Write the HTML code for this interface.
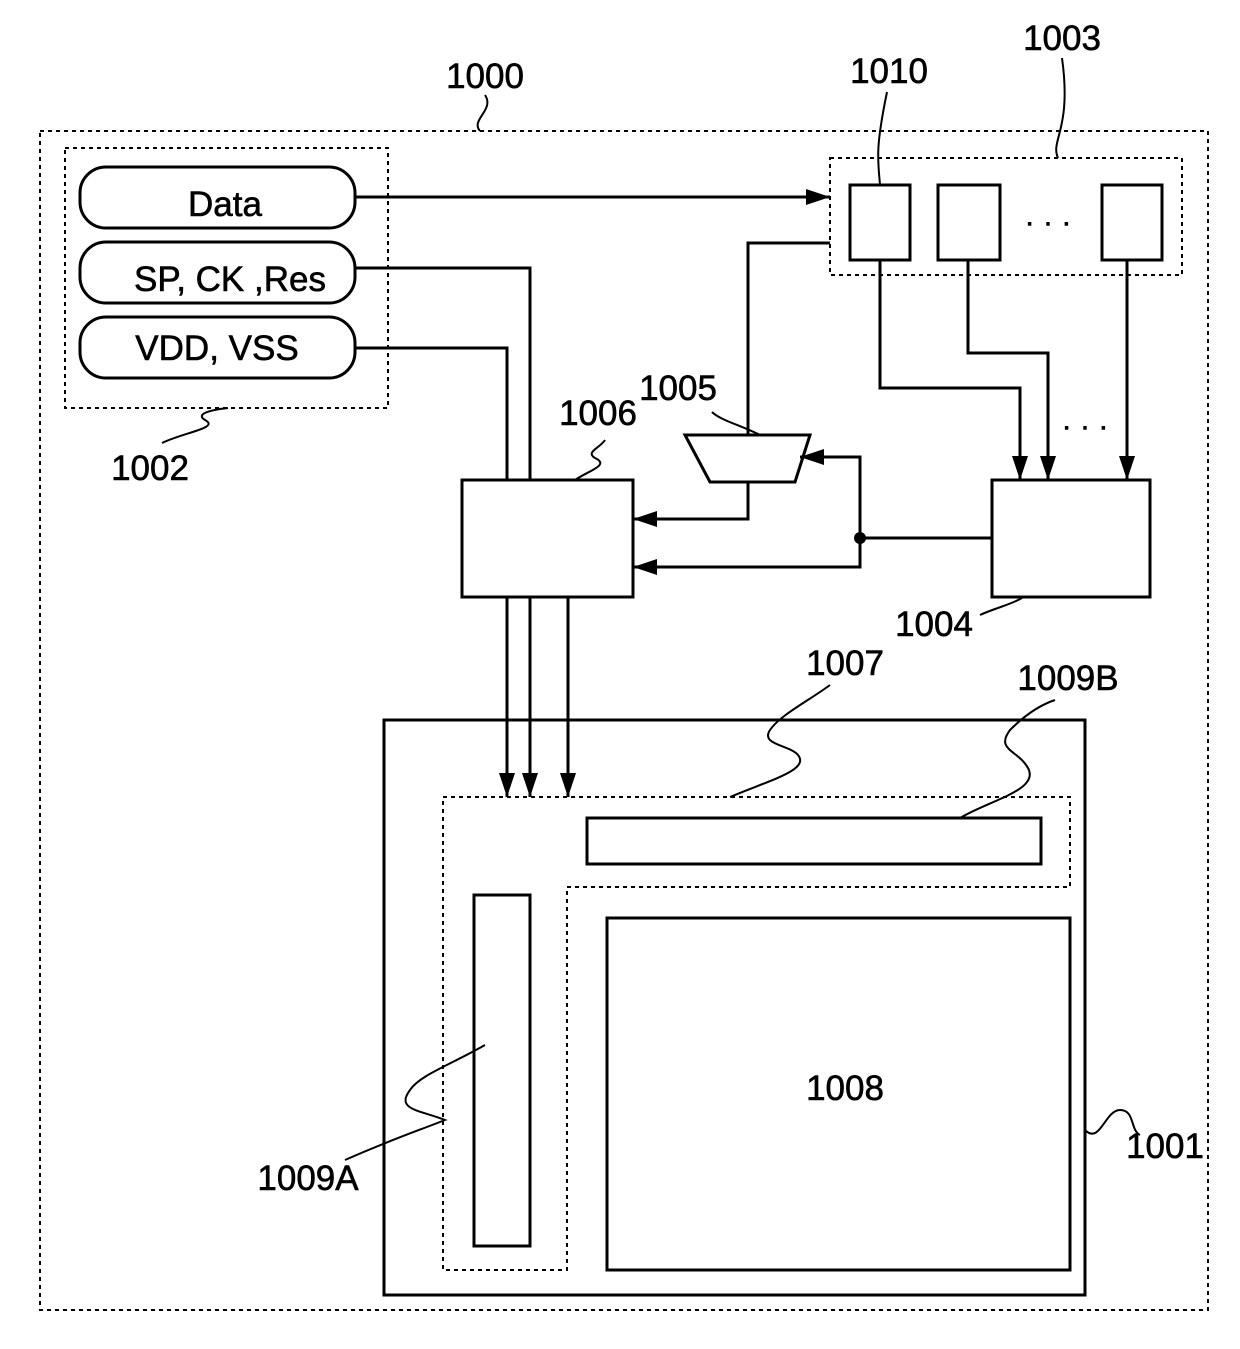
<!DOCTYPE html>
<html><head><meta charset="utf-8"><style>html,body{margin:0;padding:0;background:#fff}svg{display:block}</style></head>
<body>
<svg width="1240" height="1349" viewBox="0 0 1240 1349" xmlns="http://www.w3.org/2000/svg" font-family="Liberation Sans, sans-serif">
<defs>
<marker id="b" viewBox="0 0 10 10" refX="10" refY="5" markerWidth="24" markerHeight="16" orient="auto" markerUnits="userSpaceOnUse" preserveAspectRatio="none">
<path d="M0,0 L10,5 L0,10 z" fill="#000"/></marker>
</defs>
<g fill="none" stroke="#000">
<rect x="40" y="131" width="1168" height="1179" stroke-width="2" stroke-dasharray="4,4"/>
<rect x="65" y="148" width="323" height="260" stroke-width="2" stroke-dasharray="4,4"/>
<rect x="80" y="167" width="275" height="61" rx="26" stroke-width="3"/>
<rect x="80" y="242" width="275" height="61" rx="26" stroke-width="3"/>
<rect x="80" y="317" width="275" height="61" rx="26" stroke-width="3"/>
<rect x="830" y="158" width="352" height="117" stroke-width="2" stroke-dasharray="4,4"/>
<rect x="850" y="185" width="60" height="75" stroke-width="3"/>
<rect x="938" y="185" width="62" height="75" stroke-width="3"/>
<rect x="1102" y="185" width="60" height="75" stroke-width="3"/>
<rect x="462" y="480" width="171" height="117" stroke-width="3"/>
<rect x="992" y="480" width="158" height="117" stroke-width="3"/>
<path d="M685,435 L810,435 L795,482 L710,482 Z" stroke-width="3"/>
<rect x="384" y="720" width="701" height="575" stroke-width="3"/>
<path d="M443,797 L1070,797 L1070,887 L567,887 L567,1270 L443,1270 Z" stroke-width="2" stroke-dasharray="4,4"/>
<rect x="587" y="818" width="454" height="46" stroke-width="3"/>
<rect x="474" y="895" width="56" height="351" stroke-width="3"/>
<rect x="607" y="918" width="463" height="352" stroke-width="3"/>
<g stroke-width="3">
<path d="M355,197 L830,197" marker-end="url(#b)"/>
<path d="M830,243 L748,243 L748,435"/>
<path d="M748,482 L748,519 L633,519" marker-end="url(#b)"/>
<path d="M992,538 L860,538 L860,457 L800,457" marker-end="url(#b)"/>
<path d="M860,538 L860,567 L633,567" marker-end="url(#b)"/>
<path d="M355,268 L530,268 L530,480"/>
<path d="M355,348 L507,348 L507,480"/>
<path d="M507,597 L507,797" marker-end="url(#b)"/>
<path d="M530,597 L530,797" marker-end="url(#b)"/>
<path d="M568,597 L568,797" marker-end="url(#b)"/>
<path d="M880,260 L880,388 L1020,388 L1020,480" marker-end="url(#b)"/>
<path d="M968,260 L968,353 L1048,353 L1048,480" marker-end="url(#b)"/>
<path d="M1127,260 L1127,480" marker-end="url(#b)"/>
</g>
<g stroke-width="2">
<path d="M480,131 C470,120 495,110 485,95"/>
<path d="M1058,158 C1050,140 1072,130 1062,58"/>
<path d="M880,185 C878,160 875,150 887,92"/>
<path d="M162,443 C185,432 220,428 205,420 C195,414 210,410 228,408"/>
<path d="M575,480 C590,470 610,465 595,458 C585,452 600,448 605,440"/>
<path d="M760,435 C740,425 720,420 712,412"/>
<path d="M980,615 C995,608 1010,605 1022,598"/>
<path d="M730,797 C770,780 810,770 798,755 C790,745 760,745 770,730 C780,715 810,700 830,685"/>
<path d="M960,818 C990,800 1040,790 1028,768 C1018,750 995,750 1010,730 C1025,715 1040,705 1055,700"/>
<path d="M345,1160 C390,1140 420,1130 445,1120 C420,1110 395,1110 410,1090 C420,1075 450,1065 485,1045"/>
<path d="M1085,1130 C1100,1145 1105,1110 1120,1110 C1135,1110 1130,1130 1140,1135"/>
</g>
</g>
<circle cx="860" cy="538" r="6" fill="#000"/>
<g font-size="35" fill="#000" stroke="#000" stroke-width="0.6" text-anchor="middle">
<text x="225" y="216">Data</text>
<text x="230" y="291">SP, CK ,Res</text>
<text x="217" y="360">VDD, VSS</text>
<text x="485" y="88">1000</text>
<text x="1062" y="50">1003</text>
<text x="889" y="83">1010</text>
<text x="150" y="480">1002</text>
<text x="598" y="425">1006</text>
<text x="678" y="400">1005</text>
<text x="934" y="636">1004</text>
<text x="845" y="675">1007</text>
<text x="1068" y="690">1009B</text>
<text x="308" y="1190">1009A</text>
<text x="1165" y="1158">1001</text>
<text x="845" y="1100">1008</text>
<text x="1048" y="232" font-size="30">· · ·</text>
<text x="1085" y="436" font-size="30">· · ·</text>
</g>
</svg>
</body></html>
